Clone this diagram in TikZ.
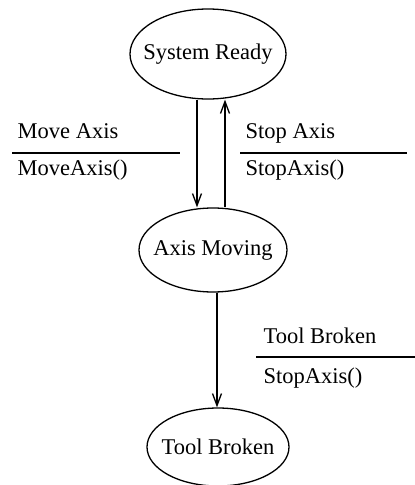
\documentclass[tikz,border=0pt]{standalone}
\usepackage{fontspec}
\setmainfont{Liberation Serif}
\usetikzlibrary{shapes.geometric, arrows.meta, positioning}

\begin{document}
\begin{tikzpicture}[x=1pt, y=-1pt, line width=1.3pt,
    state/.style={ellipse, draw, inner ysep=0pt, inner xsep=-12pt, font=\fontsize{22.5}{27}\selectfont},
    guard/.style={anchor=base west, inner sep=0pt, font=\fontsize{22.5}{27}\selectfont},
    trans/.style={-{Straight Barb[length=12pt,width=9pt]}}]
    \useasboundingbox (0,0) rectangle (415,485);
    % states
    \node[state, minimum width=156, minimum height=90] (ready) at (208,54) {System Ready};
    \node[state, minimum width=148, minimum height=84] (moving) at (213,250) {Axis Moving};
    \node[state, minimum width=142, minimum height=78] (broken) at (218,447) {Tool Broken};
    % transitions
    \draw[trans] ([xshift=-11pt]ready.south) -- ([xshift=-16pt]moving.north);
    \draw[trans] ([xshift=12pt]moving.north) -- ([xshift=17pt]ready.south);
    \draw[trans] ([xshift=4pt]moving.south) -- ([xshift=-1pt]broken.north);
    % guards
    \node[guard] (moveev) at (17,138) {Move Axis};
    \node[guard] (moveact) at (17,175) {MoveAxis()};
    \coordinate (movel) at (12,153);
    \coordinate (mover) at (180,153);
    \draw (movel) -- (mover);
    \node[guard] (stopev) at (245,138) {Stop Axis};
    \node[guard] (stopact) at (245,175) {StopAxis()};
    \coordinate (stopl) at (240,153);
    \coordinate (stopr) at (407,153);
    \draw (stopl) -- (stopr);
    \node[guard] (toolev) at (263,343) {Tool Broken};
    \node[guard] (toolact) at (263,383) {StopAxis()};
    \coordinate (tooll) at (256,357);
    \coordinate (toolr) at (415,357);
    \draw (tooll) -- (toolr);
\end{tikzpicture}
\end{document}
